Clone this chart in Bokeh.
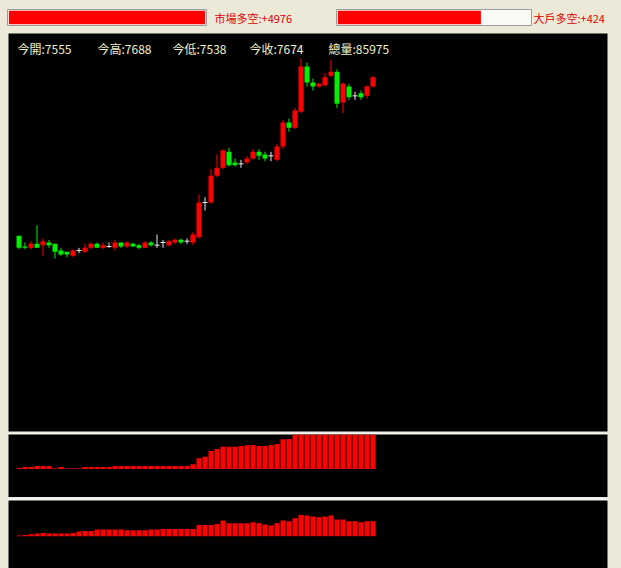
from bokeh.plotting import figure
from bokeh.layouts import column, row
from bokeh.models import Range1d, Label, ColumnDataSource, Spacer
from bokeh.embed import file_html
from bokeh.resources import INLINE

# ---------------- data ----------------
opens = [7555, 7547, 7546, 7549, 7548, 7550, 7549, 7544, 7543, 7540,
         7544, 7543, 7546, 7549, 7546, 7547, 7546, 7550, 7547, 7549,
         7548, 7546, 7550, 7548, 7550, 7548, 7550, 7552, 7551, 7550,
         7554, 7580, 7580, 7600, 7606, 7618, 7610, 7609, 7610, 7613,
         7618, 7616, 7615, 7612, 7622, 7640, 7636, 7648, 7682, 7670,
         7667, 7668, 7675, 7678, 7655, 7667, 7660, 7662, 7660, 7667]
highs = [7555, 7550, 7551, 7563, 7553, 7552, 7549, 7546, 7543, 7545,
         7546, 7549, 7550, 7550, 7550, 7550, 7552, 7550, 7551, 7550,
         7549, 7551, 7551, 7556, 7552, 7552, 7553, 7553, 7553, 7558,
         7586, 7584, 7605, 7616, 7620, 7621, 7613, 7612, 7615, 7620,
         7620, 7618, 7618, 7624, 7642, 7643, 7651, 7688, 7685, 7673,
         7670, 7677, 7687, 7680, 7670, 7669, 7663, 7664, 7668, 7675]
lows = [7545, 7545, 7545, 7546, 7540, 7546, 7538, 7540, 7539, 7539,
        7542, 7542, 7545, 7546, 7545, 7546, 7544, 7546, 7546, 7547,
        7545, 7546, 7547, 7546, 7546, 7547, 7549, 7549, 7549, 7548,
        7553, 7574, 7579, 7599, 7605, 7607, 7607, 7606, 7609, 7612,
        7612, 7611, 7611, 7611, 7620, 7633, 7635, 7647, 7667, 7664,
        7666, 7667, 7674, 7651, 7647, 7657, 7657, 7657, 7658, 7666]
closes = [7546, 7546, 7549, 7546, 7551, 7548, 7543, 7541, 7541, 7544,
          7544, 7546, 7549, 7546, 7548, 7547, 7550, 7547, 7550, 7547,
          7546, 7550, 7548, 7548, 7550, 7551, 7552, 7550, 7551, 7556,
          7580, 7580, 7600, 7606, 7619, 7608, 7608, 7609, 7613, 7618,
          7615, 7613, 7615, 7622, 7640, 7636, 7649, 7682, 7670, 7667,
          7669, 7674, 7678, 7654, 7669, 7659, 7660, 7659, 7667, 7674]
total_volume = 85975

# cumulative market long/short balance (upper sub panel)
market_net = [100, 200, 200, 300, 300, 300, 70, 200, 70, 70,
              70, 200, 200, 200, 200, 200, 300, 300, 300, 300,
              300, 300, 300, 300, 300, 300, 300, 300, 300, 470,
              1070, 1230, 1800, 2000, 2230, 2230, 2230, 2300, 2370, 2400,
              2300, 2300, 2400, 2500, 2970, 3000, 3520, 4410, 4180, 4050,
              4120, 4260, 4470, 3890, 4020, 4130, 4160, 4080, 4350, 4976]
# cumulative large-trader long/short balance (lower sub panel)
big_net = [20, 37, 57, 76, 93, 76, 76, 76, 76, 93,
           133, 150, 150, 190, 190, 190, 190, 190, 170, 170,
           170, 170, 190, 190, 207, 207, 207, 207, 207, 207,
           320, 320, 320, 348, 444, 368, 368, 368, 368, 396,
           368, 331, 303, 368, 444, 424, 509, 603, 586, 557,
           538, 557, 586, 473, 473, 424, 424, 396, 424, 424]
gauge_max = 570

# ---------------- style ----------------
BG = "#ECE9D8"
EDGE = "#F2F2F2"
UP = "#FF0000"
DOWN = "#00F000"
FLAT = "#E8E8E8"
FONT = "Noto Sans CJK TC"
X_RANGE = (-1.75, 98.0833)


def blank(fig):
    fig.grid.visible = False
    return fig


def gauge(width, left, right, val):
    """Progress-bar style gauge, filled up to val (clipped at gauge_max)."""
    g = figure(width=width, height=32, x_range=Range1d(-4, gauge_max + 4), y_range=Range1d(0, 1),
               x_axis_location=None, y_axis_location=None, toolbar_location=None,
               output_backend="svg", min_border_left=left, min_border_right=right,
               min_border_top=9, min_border_bottom=7, background_fill_color="#FAFAF6",
               border_fill_color=BG, outline_line_color="#9C9C9C")
    blank(g)
    g.hbar(y=[0.5], left=[0], right=[min(val, gauge_max)], height=0.84,
           fill_color="#FF0000", line_color=None)
    return g


def caption(width, x, text):
    """Plain text cell next to a gauge; ranges are in pixels."""
    c = figure(width=width, height=32, x_range=Range1d(0, width), y_range=Range1d(32, 0),
               x_axis_location=None, y_axis_location=None, toolbar_location=None,
               output_backend="svg", min_border=0, background_fill_color=BG,
               border_fill_color=BG, outline_line_color=None)
    blank(c)
    c.add_layout(Label(x=x, y=16, text=text, text_color="#E00000", text_font=FONT,
                       text_font_size="11px", text_baseline="middle"))
    return c


def fmt(v):
    return f"+{v}" if v >= 0 else str(v)


header = row(
    gauge(207, 7, 1, market_net[-1]),
    caption(129, 7, "市場多空:" + fmt(market_net[-1])),
    gauge(197, 0, 2, big_net[-1]),
    caption(88, 0, "大戶多空:" + fmt(big_net[-1])),
    spacing=0,
)

# thin dark rule along the top edge of the chart area
strip = figure(width=621, height=1, x_range=Range1d(0, 1), y_range=Range1d(0, 1),
               x_axis_location=None, y_axis_location=None, toolbar_location=None,
               output_backend="svg", min_border_left=7, min_border_right=13,
               min_border_top=0, min_border_bottom=0, background_fill_color="#8A8A8A",
               border_fill_color=BG, outline_line_color=None)
blank(strip)

# ---------------- candlestick panel ----------------
idx = list(range(len(opens)))
colors = [UP if c > o else DOWN if c < o else FLAT for o, c in zip(opens, closes)]
src = ColumnDataSource(dict(x=idx, o=opens, h=highs, l=lows, c=closes,
                            top=[max(o, c) for o, c in zip(opens, closes)],
                            bottom=[min(o, c) for o, c in zip(opens, closes)],
                            color=colors))
body_idx = [i for i in idx if opens[i] != closes[i]]
flat_idx = [i for i in idx if opens[i] == closes[i]]
body_src = ColumnDataSource({k: [v[i] for i in body_idx] for k, v in src.data.items()})
flat_src = ColumnDataSource({k: [v[i] for i in flat_idx] for k, v in src.data.items()})

main = figure(width=601, height=399, x_range=Range1d(*X_RANGE),
              y_range=Range1d(7408.25, 7706.75),
              x_axis_location=None, y_axis_location=None, toolbar_location=None,
              output_backend="svg", min_border_left=1, min_border_right=1,
              min_border_top=0, min_border_bottom=1, background_fill_color="black",
              border_fill_color=EDGE, outline_line_color=None)
blank(main)
main.segment(x0="x", y0="l", x1="x", y1="h", line_color="color", line_width=1, source=src)
main.vbar(x="x", top="top", bottom="bottom", width=5 / 6, fill_color="color",
          line_color=None, source=body_src)
main.dash(x="x", y="c", size=5, line_color="color", line_width=1, source=flat_src)

stats = [
    (9, f"今開:{opens[0]}"),
    (89, f"今高:{max(highs)}"),
    (164, f"今低:{min(lows)}"),
    (241, f"今收:{closes[-1]}"),
    (320, f"總量:{total_volume}"),
]
for sx, txt in stats:
    main.add_layout(Label(x=sx, y=383, x_units="screen", y_units="screen", text=txt,
                          text_color="#F2F2C8", text_font=FONT, text_font_size="12px",
                          text_baseline="middle"))

# ---------------- sub panels ----------------


def sub_panel(height, top_border, values, y0, y1):
    s = figure(width=601, height=height, x_range=Range1d(*X_RANGE), y_range=Range1d(y0, y1),
               x_axis_location=None, y_axis_location=None, toolbar_location=None,
               output_backend="svg", min_border_left=1, min_border_right=1,
               min_border_top=top_border, min_border_bottom=0,
               background_fill_color="black", border_fill_color=EDGE,
               outline_line_color=None)
    blank(s)
    s.vbar(x=idx, top=values, bottom=0, width=5 / 6, fill_color="#FF0000", line_color=None)
    return s


p1 = sub_panel(65, 2, market_net, -2850, 3450)
p2 = sub_panel(71, 3, big_net, -914, 1010)

charts = row(Spacer(width=7, height=535, styles={"background-color": BG}),
             column(main, p1, p2, spacing=0),
             Spacer(width=13, height=535, styles={"background-color": BG}),
             spacing=0)

page = column(header, strip, charts, spacing=0, styles={"background-color": BG})

open("out.html", "w").write(file_html(page, INLINE))
